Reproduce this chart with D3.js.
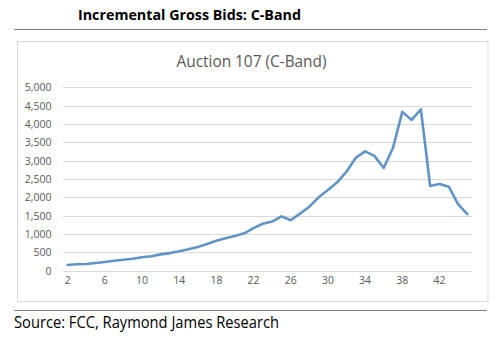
<!DOCTYPE html>
<html>
<head>
<meta charset="utf-8">
<script src="https://cdn.jsdelivr.net/npm/d3@7"></script>
<style>
  html, body { margin: 0; padding: 0; background: #ffffff; }
  svg { display: block; }
</style>
</head>
<body>
<svg id="chart" width="500" height="340"></svg>
<script>
const pageTitle = "Incremental Gross Bids: C-Band";
const chartTitle = "Auction 107 (C-Band)";
const sourceText = "Source: FCC, Raymond James Research";

const rounds = [2,3,4,5,6,7,8,9,10,11,12,13,14,15,16,17,18,19,20,21,22,23,24,25,26,27,28,29,30,31,32,33,34,35,36,37,38,39,40,41,42,43,44,45];
const bids = [155,175,182,208,237,270,298,325,365,392,445,480,528,583,645,730,815,882,948,1020,1160,1280,1340,1480,1375,1555,1745,2000,2200,2410,2700,3080,3255,3130,2800,3350,4330,4110,4400,2310,2365,2290,1815,1540];
const yTicks = [0,500,1000,1500,2000,2500,3000,3500,4000,4500,5000];
const xTickLabels = [2,6,10,14,18,22,26,30,34,38,42];

const svg = d3.select("#chart");
const font = "'Open Sans', 'Noto Sans', sans-serif";

// header
svg.append("text")
  .attr("x", 78).attr("y", 20)
  .attr("font-family", font).attr("font-weight", "bold")
  .attr("font-size", 15).attr("fill", "#000")
  .attr("textLength", 223).attr("lengthAdjust", "spacingAndGlyphs")
  .text(pageTitle);
svg.append("line").attr("x1", 14).attr("x2", 487).attr("y1", 29.5).attr("y2", 29.5)
  .attr("stroke", "#808080").attr("stroke-width", 1.2);

// chart box
svg.append("rect").attr("x", 17.5).attr("y", 41.5).attr("width", 470.5).attr("height", 260)
  .attr("fill", "#fff").attr("stroke", "#d9d9d9").attr("stroke-width", 1);

svg.append("text")
  .attr("x", 251.5).attr("y", 67)
  .attr("text-anchor", "middle")
  .attr("font-family", font).attr("font-size", 16.5).attr("fill", "#595959")
  .attr("textLength", 150).attr("lengthAdjust", "spacingAndGlyphs")
  .text(chartTitle);

// footer
svg.append("line").attr("x1", 14).attr("x2", 487).attr("y1", 310.5).attr("y2", 310.5)
  .attr("stroke", "#808080").attr("stroke-width", 1.2);
svg.append("text")
  .attr("x", 14).attr("y", 328)
  .attr("font-family", font).attr("font-size", 15.5).attr("fill", "#000")
  .attr("textLength", 265).attr("lengthAdjust", "spacingAndGlyphs")
  .text(sourceText);

// scales
const x = d3.scaleBand().domain(rounds).range([63, 472]).padding(0);
const y = d3.scaleLinear().domain([0, 5000]).range([270.7, 87.3]);

// grid
svg.append("g").selectAll("line").data(yTicks).join("line")
  .attr("x1", 63).attr("x2", 472)
  .attr("y1", d => Math.round(y(d)) + 0.5).attr("y2", d => Math.round(y(d)) + 0.5)
  .attr("stroke", "#d9d9d9").attr("stroke-width", 1);

// y axis
const yAxis = d3.axisLeft(y).tickValues(yTicks).tickSize(0).tickPadding(0)
  .tickFormat(d3.format(","));
const gy = svg.append("g").attr("transform", "translate(51.5,0)").call(yAxis);
gy.select(".domain").remove();
gy.selectAll("text").attr("font-family", font).attr("font-size", 10.5).attr("fill", "#595959");

// x axis
const xAxis = d3.axisBottom(x).tickValues(xTickLabels).tickSize(0).tickPadding(0);
const gx = svg.append("g").attr("transform", "translate(0,277)").call(xAxis);
gx.select(".domain").remove();
gx.selectAll("text").attr("font-family", font).attr("font-size", 10.5).attr("fill", "#595959");

// line
const data = rounds.map((r, i) => ({ r, v: bids[i] }));
const line = d3.line().x(d => x(d.r) + x.bandwidth() / 2).y(d => y(d.v));
svg.append("path").datum(data)
  .attr("d", line)
  .attr("fill", "none")
  .attr("stroke", "#6194c6")
  .attr("stroke-width", 2.6)
  .attr("stroke-linejoin", "round")
  .attr("stroke-linecap", "round");
</script>
</body>
</html>
